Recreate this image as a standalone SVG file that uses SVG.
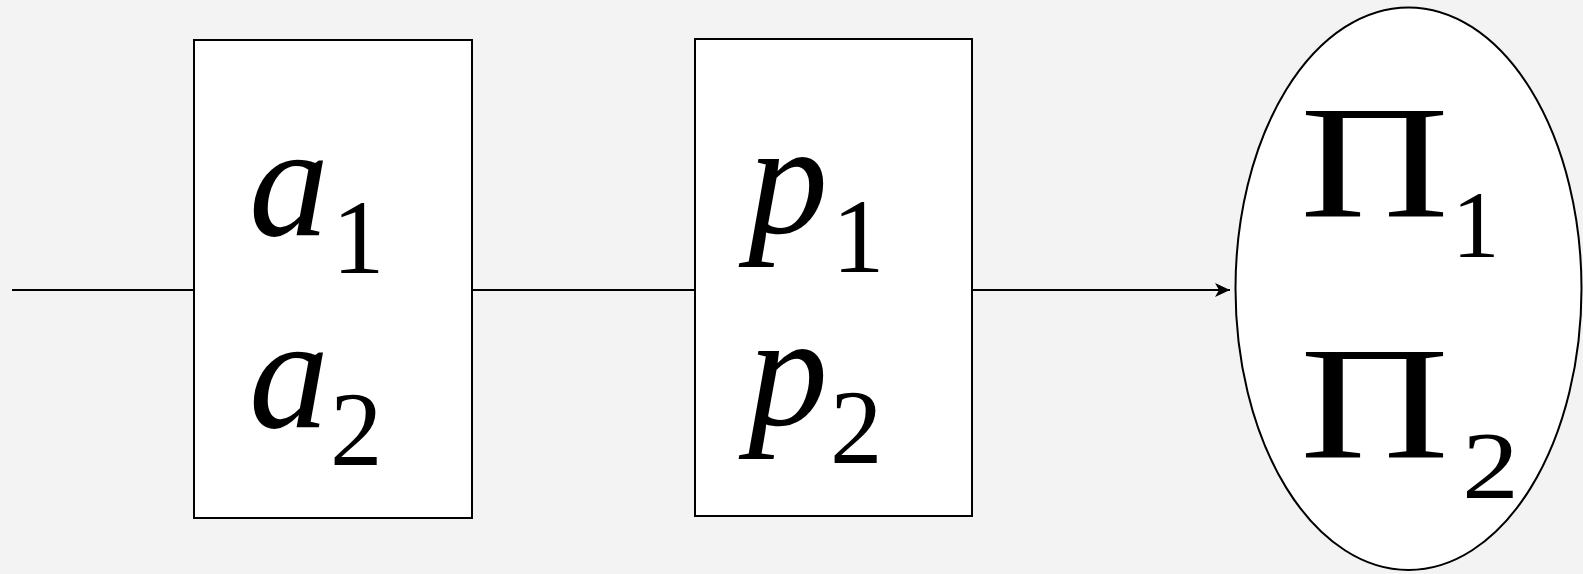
<svg xmlns="http://www.w3.org/2000/svg" width="1583" height="574" viewBox="0 0 1583 574">
<style>
.bg{fill:#f3f3f3}
.node{fill:#ffffff;stroke:#000;stroke-width:2}
.edge{stroke:#000;stroke-width:2;fill:none}
text{font-family:'Liberation Serif','Times New Roman',Times,serif;fill:#000}
.it{font-style:italic;font-size:160px}
.up{font-size:160px}
.sub{font-size:105px}
.sub2{font-size:95px}
</style>
<defs>
<marker id="arr" markerWidth="16" markerHeight="14" refX="15" refY="7" orient="auto" markerUnits="userSpaceOnUse">
<path d="M0,0 L15,7 L0,14 L4,7 Z" fill="#000"/>
</marker>
</defs>
<rect class="bg" x="0" y="0" width="1583" height="574"/>
<g id="connectors">
<line class="edge" x1="12" y1="290" x2="194" y2="290"/>
<line class="edge" x1="472" y1="290" x2="695" y2="290"/>
<line class="edge" x1="972" y1="290" x2="1230" y2="290" marker-end="url(#arr)"/>
</g>
<g id="node-a">
<rect class="node" x="194" y="40" width="278" height="478"/>
<text class="it" x="249" y="235">a</text>
<text class="sub" x="332" y="273">1</text>
<text class="it" x="249" y="427">a</text>
<text class="sub" x="330" y="465">2</text>
</g>
<g id="node-p">
<rect class="node" x="695" y="39" width="277" height="477"/>
<text class="it" x="748" y="233">p</text>
<text class="sub" x="832" y="272">1</text>
<text class="it" x="748" y="425">p</text>
<text class="sub" x="830" y="463">2</text>
</g>
<g id="node-pi">
<ellipse class="node" cx="1408.5" cy="288.7" rx="173" ry="281.3"/>
<text class="up" transform="translate(1300,217) scale(1.29,1)">Π</text>
<text class="sub2" x="1452" y="257">1</text>
<text class="up" transform="translate(1300,458) scale(1.29,1)">Π</text>
<text class="sub2" transform="translate(1462,498) scale(1.2,1)">2</text>
</g>
</svg>
